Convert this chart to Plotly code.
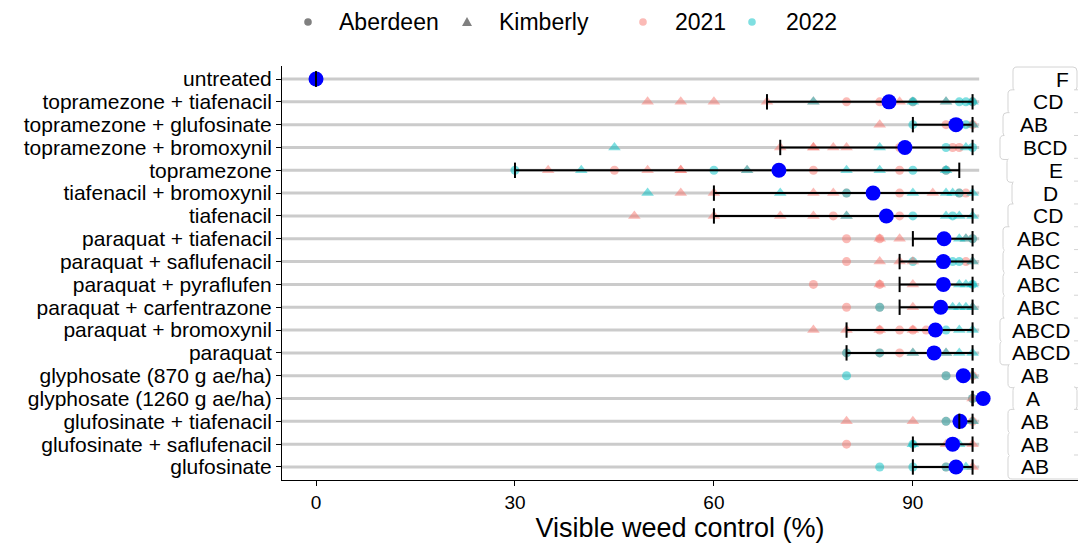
import plotly.graph_objects as go

# ---------------------------------------------------------------- data
treatments = [
    "untreated",
    "topramezone + tiafenacil",
    "topramezone + glufosinate",
    "topramezone + bromoxynil",
    "topramezone",
    "tiafenacil + bromoxynil",
    "tiafenacil",
    "paraquat + tiafenacil",
    "paraquat + saflufenacil",
    "paraquat + pyraflufen",
    "paraquat + carfentrazone",
    "paraquat + bromoxynil",
    "paraquat",
    "glyphosate (870 g ae/ha)",
    "glyphosate (1260 g ae/ha)",
    "glufosinate + tiafenacil",
    "glufosinate + saflufenacil",
    "glufosinate",
]

mean_control = [0, 86.4, 96.5, 88.8, 69.8, 84.0, 86.0, 94.7, 94.6, 94.6,
                94.2, 93.4, 93.2, 97.6, 100.6, 97.1, 96.0, 96.5]
ci_lower = [0, 68, 90, 70, 30, 60, 60, 90, 88, 88, 88, 80, 80, 99, 99, 97, 90, 90]
ci_upper = [0, 99, 99, 99, 97, 99, 99, 99, 99, 99, 99, 99, 99, 99, 99, 99, 99, 99]
letters = ["F", "CD", "AB", "BCD", "E", "D", "CD", "ABC", "ABC", "ABC", "ABC",
           "ABCD", "ABCD", "AB", "A", "AB", "AB", "AB"]

# plot-level observations, one list per treatment
aberdeen_2021 = {
    "untreated": [0, 0],
    "topramezone + tiafenacil": [80, 85, 86, 90, 99],
    "topramezone + glufosinate": [95, 96, 97, 99],
    "topramezone + bromoxynil": [88, 96, 97],
    "topramezone": [45, 75, 88, 95],
    "tiafenacil + bromoxynil": [80, 88, 97, 98],
    "tiafenacil": [78, 88],
    "paraquat + tiafenacil": [80, 85, 99],
    "paraquat + saflufenacil": [80, 98],
    "paraquat + pyraflufen": [75, 85],
    "paraquat + carfentrazone": [80, 85],
    "paraquat + bromoxynil": [85, 88, 90, 92],
    "paraquat": [80, 85, 88],
    "glyphosate (870 g ae/ha)": [95, 99],
    "glyphosate (1260 g ae/ha)": [99],
    "glufosinate + tiafenacil": [95, 99],
    "glufosinate + saflufenacil": [80],
    "glufosinate": [95],
}
aberdeen_2022 = {
    "untreated": [0, 0],
    "topramezone + tiafenacil": [90, 97, 98, 99],
    "topramezone + glufosinate": [90, 96, 98],
    "topramezone + bromoxynil": [95, 99],
    "topramezone": [30, 60, 90, 95],
    "tiafenacil + bromoxynil": [80, 97],
    "tiafenacil": [90, 96],
    "paraquat + tiafenacil": [99],
    "paraquat + saflufenacil": [90, 96, 97],
    "paraquat + pyraflufen": [99],
    "paraquat + carfentrazone": [85],
    "paraquat + bromoxynil": [95],
    "paraquat": [80, 85],
    "glyphosate (870 g ae/ha)": [80, 95],
    "glyphosate (1260 g ae/ha)": [99],
    "glufosinate + tiafenacil": [95],
    "glufosinate + saflufenacil": [90, 96],
    "glufosinate": [85, 90, 95],
}
kimberly_2021 = {
    "untreated": [0, 0],
    "topramezone + tiafenacil": [50, 55, 60, 68, 75, 88, 95],
    "topramezone + glufosinate": [85, 99],
    "topramezone + bromoxynil": [70, 75, 75, 78, 80],
    "topramezone": [35, 50, 55, 55, 65],
    "tiafenacil + bromoxynil": [55, 60, 75, 78, 93],
    "tiafenacil": [48, 60, 70, 75, 80],
    "paraquat + tiafenacil": [85, 88, 98],
    "paraquat + saflufenacil": [85, 88, 90, 99],
    "paraquat + pyraflufen": [85, 90],
    "paraquat + carfentrazone": [90, 99],
    "paraquat + bromoxynil": [75, 80, 85, 90],
    "paraquat": [90, 95],
    "glyphosate (870 g ae/ha)": [99],
    "glyphosate (1260 g ae/ha)": [99, 100],
    "glufosinate + tiafenacil": [80, 90, 99],
    "glufosinate + saflufenacil": [95, 99],
    "glufosinate": [99],
}
kimberly_2022 = {
    "untreated": [0, 0],
    "topramezone + tiafenacil": [75, 90, 95, 99],
    "topramezone + glufosinate": [97, 99],
    "topramezone + bromoxynil": [45, 85, 98],
    "topramezone": [40, 65, 80, 85, 95],
    "tiafenacil + bromoxynil": [50, 70, 90, 95, 96, 99],
    "tiafenacil": [80, 95, 97, 99],
    "paraquat + tiafenacil": [97, 98],
    "paraquat + saflufenacil": [99],
    "paraquat + pyraflufen": [97, 98, 99],
    "paraquat + carfentrazone": [96, 97, 98, 99],
    "paraquat + bromoxynil": [97, 99],
    "paraquat": [90, 95, 97, 99],
    "glyphosate (870 g ae/ha)": [99],
    "glyphosate (1260 g ae/ha)": [100],
    "glufosinate + tiafenacil": [99],
    "glufosinate + saflufenacil": [90, 97],
    "glufosinate": [98],
}

# ---------------------------------------------------------------- layout constants
W, H = 1078, 546
PLOT_L, PLOT_R, PLOT_T, PLOT_B = 282, 1078, 66, 480
X_RANGE = [-5.13, 114.9]
Y_RANGE = [-0.57, len(treatments) - 1 + 0.57]
LINE_END = 100

FONT = "Liberation Sans, Arial, Helvetica, sans-serif"
PINK = "rgba(248,118,109,0.5)"
TEAL = "rgba(0,191,196,0.5)"
LEGEND_GRAY = "#808080"

# horizontal position of each significance letter and left edge of its box
letter_x = [112.5, 110.4, 108.2, 109.9, 111.6, 110.8, 110.4, 108.9, 108.9,
            108.9, 108.9, 109.3, 109.3, 108.4, 108.1, 108.4, 108.4, 108.4]
box_left_px = [1013, 1008, 1003, 1000, 1007, 1012, 1008, 1003, 1003, 1003,
               1003, 1000, 1000, 1008, 1013, 1008, 1008, 1008]
box_right_px = [1077 if lab in ("F", "A") else 1092 for lab in letters]


def px_x(px):
    return (px - PLOT_L) / (PLOT_R - PLOT_L)


def px_y(py):
    return (PLOT_B - py) / (PLOT_B - PLOT_T)


def row_py(i):
    # pixel centre of row i (0 = top row)
    yval = len(treatments) - 1 - i
    return PLOT_B - (yval - Y_RANGE[0]) / (Y_RANGE[1] - Y_RANGE[0]) * (PLOT_B - PLOT_T)


fig = go.Figure()

# light grey guide line for every treatment
gx, gy = [], []
for t in treatments:
    gx += [X_RANGE[0], LINE_END, None]
    gy += [t, t, None]
fig.add_trace(go.Scatter(x=gx, y=gy, mode="lines", hoverinfo="skip",
                         line=dict(color="#cbcbcb", width=3), showlegend=False))

# raw observations: shape = location, colour = year
groups = [
    (aberdeen_2021, "circle", PINK, 9),
    (aberdeen_2022, "circle", TEAL, 9),
    (kimberly_2021, "triangle-up", PINK, 11),
    (kimberly_2022, "triangle-up", TEAL, 11),
]
for data, symbol, color, size in groups:
    xs, ys = [], []
    for t in treatments:
        for v in data.get(t, []):
            xs.append(v)
            ys.append(t)
    fig.add_trace(go.Scatter(
        x=xs, y=ys, mode="markers", showlegend=False,
        marker=dict(symbol=symbol, color=color, size=size, line=dict(width=0)),
    ))

# confidence interval bars
cx, cy = [], []
for t, lo, hi in zip(treatments, ci_lower, ci_upper):
    cx += [lo, hi, None]
    cy += [t, t, None]
fig.add_trace(go.Scatter(x=cx, y=cy, mode="lines", showlegend=False,
                         line=dict(color="black", width=2)))

# estimated means
fig.add_trace(go.Scatter(x=mean_control, y=treatments, mode="markers", showlegend=False,
                         marker=dict(color="#0000ff", size=15, line=dict(width=0))))

# interval end caps
fig.add_trace(go.Scatter(
    x=ci_lower + ci_upper, y=treatments + treatments, mode="markers", showlegend=False,
    marker=dict(symbol="line-ns", size=11, line=dict(color="black", width=2)),
))

# significance letters
shapes = []
annotations = []
for i, (t, lab, lx) in enumerate(zip(treatments, letters, letter_x)):
    annotations.append(dict(x=lx, y=t, xref="x", yref="y", text=lab, showarrow=False,
                            xanchor="center", yanchor="middle",
                            font=dict(family=FONT, size=21, color="black")))

# rounded boxes behind the letters
r = 4
for i in range(len(treatments)):
    cyp = row_py(i)
    L, R = box_left_px[i], box_right_px[i]
    T, B = cyp - 12, cyp + 12
    pts = [
        ("M", L + r, T), ("L", R - r, T), ("Q", R, T, R, T + r), ("L", R, B - r),
        ("Q", R, B, R - r, B), ("L", L + r, B), ("Q", L, B, L, B - r),
        ("L", L, T + r), ("Q", L, T, L + r, T),
    ]
    path = ""
    for p in pts:
        if p[0] == "Q":
            path += f"Q{px_x(p[1]):.5f},{px_y(p[2]):.5f} {px_x(p[3]):.5f},{px_y(p[4]):.5f} "
        else:
            path += f"{p[0]}{px_x(p[1]):.5f},{px_y(p[2]):.5f} "
    path += "Z"
    shapes.append(dict(type="path", xref="paper", yref="paper", path=path,
                       fillcolor="white", line=dict(color="#d4d4d4", width=1),
                       layer="above"))
# hide the internal horizontal edges between neighbouring boxes
for i in range(len(treatments) - 1):
    cyp = row_py(i)
    xl = max(box_left_px[i], box_left_px[i + 1]) + 1.5
    shapes.append(dict(type="rect", xref="paper", yref="paper",
                       x0=px_x(xl), x1=px_x(1074), y0=px_y(cyp + 9.3), y1=px_y(cyp + 13.6),
                       fillcolor="white", line=dict(width=0), layer="above"))

# legend drawn at the top
leg_y = px_y(22)
legend_items = [
    ("circle", LEGEND_GRAY, 308, 337, "Aberdeen"),
    ("triangle", LEGEND_GRAY, 467, 497, "Kimberly"),
    ("circle", PINK, 643, 673, "2021"),
    ("circle", TEAL, 752, 784, "2022"),
]
for kind, color, sx, tx, text in legend_items:
    if kind == "circle":
        shapes.append(dict(type="circle", xref="paper", yref="paper",
                           xsizemode="pixel", ysizemode="pixel",
                           xanchor=px_x(sx), yanchor=leg_y,
                           x0=-3.8, x1=3.8, y0=-3.8, y1=3.8,
                           fillcolor=color, line=dict(width=0)))
    else:
        shapes.append(dict(type="path", xref="paper", yref="paper",
                           xsizemode="pixel", ysizemode="pixel",
                           xanchor=px_x(sx), yanchor=leg_y,
                           path="M-5,-4 L5,-4 L0,5 Z",
                           fillcolor=color, line=dict(width=0)))
    annotations.append(dict(x=px_x(tx), y=leg_y, xref="paper", yref="paper", text=text,
                            showarrow=False, xanchor="left", yanchor="middle",
                            font=dict(family=FONT, size=23, color="black")))

fig.update_layout(
    width=W, height=H,
    margin=dict(l=PLOT_L, r=W - PLOT_R, t=PLOT_T, b=H - PLOT_B, pad=0),
    paper_bgcolor="white", plot_bgcolor="white",
    font=dict(family=FONT, color="black"),
    showlegend=False,
    shapes=shapes,
    annotations=annotations,
    xaxis=dict(
        range=X_RANGE, tickvals=[0, 30, 60, 90], ticks="outside", ticklen=5,
        tickwidth=1, tickcolor="black", showline=True, linecolor="black", linewidth=1,
        showgrid=False, zeroline=False, tickfont=dict(size=19, color="black"),
        title=dict(text="Visible weed control (%)", font=dict(size=27, color="black"),
                   standoff=6),
    ),
    yaxis=dict(
        type="category", categoryorder="array", categoryarray=treatments[::-1],
        tickmode="array", tickvals=treatments, ticktext=treatments,
        range=Y_RANGE, ticks="outside", ticklen=5, tickwidth=1, tickcolor="black",
        showline=True, linecolor="black", linewidth=1, showgrid=False, zeroline=False,
        tickfont=dict(size=21, color="black"),
    ),
)

fig.write_html("out.html")
